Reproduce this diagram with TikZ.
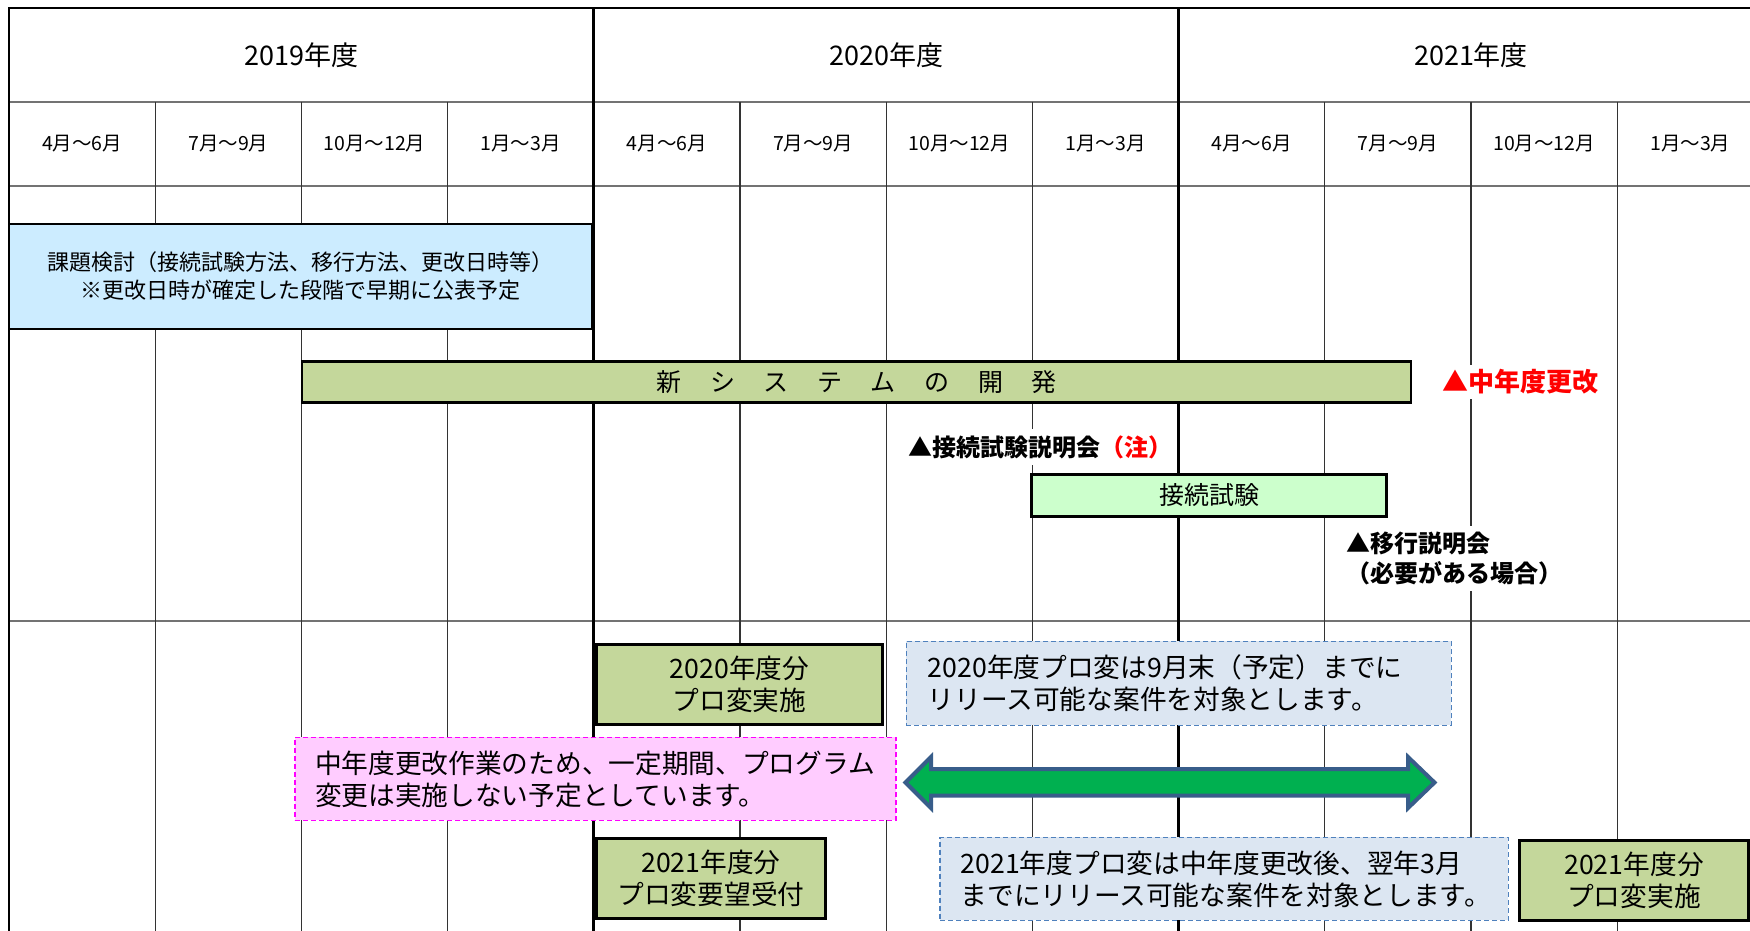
\documentclass[tikz,border=0pt]{standalone}
\usepackage{fontspec}
\setmainfont{Noto Sans CJK JP}
\newcommand\fsz[2]{\fontsize{#1pt}{#2pt}\selectfont}
\newcommand\kgap{\hspace{28.6pt}}
\definecolor{kadaiblue}{HTML}{CCECFF}
\definecolor{olivebox}{HTML}{C4D79B}
\definecolor{testgreen}{HTML}{CCFFCC}
\definecolor{noteline}{HTML}{4F81BD}
\definecolor{notefill}{HTML}{DCE6F2}
\definecolor{pinkfill}{HTML}{FFCCFF}
\definecolor{pinkline}{HTML}{FF00FF}
\definecolor{arrowfill}{HTML}{00B050}
\definecolor{arrowline}{HTML}{385D8A}
\definecolor{alertred}{HTML}{FF0000}
\begin{document}
\begin{tikzpicture}[x=1pt,y=-1pt,
  thinline/.style={draw=black!80, line width=1.3pt},
  thickline/.style={draw=black, line width=2.8pt},
  hline/.style={draw=black!55, line width=1.5pt},
  solidbox/.style={draw=black, line width=2.8pt, inner sep=0pt, align=center},
  notebox/.style={line width=1.6pt, dash pattern=on 5pt off 3pt, inner ysep=0pt, align=left, font=\fsz{26.7}{32}},
  lbl/.style={fill=white, inner xsep=1pt, inner ysep=6pt, font=\bfseries\fsz{24}{29.5}},
  yearlbl/.style={font=\fsz{27}{32}},
  qlbl/.style={font=\fsz{19.5}{24}},
]
\useasboundingbox (0,0) rectangle (1750,931);
\clip (0,0) rectangle (1750,931);

% ---- grid ----
\draw[hline] (9,102) -- (1765,102);
\draw[hline] (9,186) -- (1765,186);
\draw[hline] (9,621) -- (1765,621);
\foreach \i in {1,2,3,5,6,7,9,10,11}
  \draw[thinline] ({9+146.2*\i},102) -- ({9+146.2*\i},931);
\foreach \i in {4,8}
  \draw[thickline] ({9+146.2*\i},8) -- ({9+146.2*\i},931);
\draw[thickline, line join=miter] (9,935) -- (9,8) -- (1765,8);

% ---- header labels ----
\foreach \y [count=\k from 0] in {2019,2020,2021}
  \node[yearlbl] (year\k) at ({301.4+584.8*\k},55) {\y 年度};
\foreach \q [count=\k from 0] in {4月～6月,7月～9月,10月～12月,1月～3月,4月～6月,7月～9月,10月～12月,1月～3月,4月～6月,7月～9月,10月～12月,1月～3月}
  \node[qlbl] (q\k) at ({82.1+146.2*\k},144) {\q};

% ---- upper section ----
\node[solidbox, fill=kadaiblue, minimum width=583pt, minimum height=105pt, font=\fsz{22}{28}] (kadai) at (300.5,276.5)
  {課題検討（接続試験方法、移行方法、更改日時等）\\※更改日時が確定した段階で早期に公表予定};
\node[solidbox, fill=olivebox, minimum width=1109pt, minimum height=41pt, font=\fsz{25}{30}] (dev) at (856.5,381.7)
  {新\kgap シ\kgap ス\kgap テ\kgap ム\kgap の\kgap 開\kgap 発};
\node[lbl, text=alertred, font=\bfseries\fsz{26}{30}, inner ysep=5pt] (chuko) at (1520,382) {▲中年度更改};
\node[lbl] (setsumei) at (1040,447) {▲接続試験説明会\textcolor{alertred}{（注）}};
\node[solidbox, line width=2.2pt, fill=testgreen, minimum width=355pt, minimum height=42pt, font=\fsz{25}{30}] (test) at (1209,495.5) {接続試験};
\node[lbl, anchor=west, align=left, inner xsep=0pt] (ikou) at (1346,558.5) {▲移行説明会\\（必要がある場合）};

% ---- lower section ----
\node[solidbox, fill=olivebox, minimum width=286pt, minimum height=80pt, font=\fsz{26.7}{32}] (p2020) at (739.5,684.4) {2020年度分\\プロ変実施};
\node[notebox, draw=noteline, fill=notefill, minimum height=84pt, text width=502pt, inner xsep=21.5pt] (n2020) at (1178.8,683.4)
  {2020年度プロ変は9月末（予定）までに\\リリース可能な案件を対象とします。};
\node[notebox, draw=pinkline, fill=pinkfill, minimum height=83pt, text width=561pt, inner xsep=20pt] (pink) at (595.5,778.9)
  {中年度更改作業のため、一定期間、プログラム\\変更は実施しない予定としています。};

\coordinate (al) at (905.5,782.5);
\coordinate (ar) at (1434.5,782.5);
\draw[line width=4pt, draw=arrowline, fill=arrowfill, line join=miter]
  (al) -- (931,757) -- (931,769) -- (1408,769) -- (1408,757) -- (ar)
  -- (1408,808) -- (1408,795.5) -- (931,795.5) -- (931,808) -- cycle;

\node[solidbox, fill=olivebox, minimum width=229pt, minimum height=80pt, font=\fsz{26.7}{32}] (p2021a) at (711,878.7) {2021年度分\\プロ変要望受付};
\node[notebox, draw=noteline, fill=notefill, minimum height=83pt, text width=527pt, inner xsep=20.7pt] (n2021) at (1224.2,878.9)
  {2021年度プロ変は中年度更改後、翌年3月\\までにリリース可能な案件を対象とします。};
\node[solidbox, fill=olivebox, minimum width=229pt, minimum height=80pt, font=\fsz{26.7}{32}] (p2021b) at (1634,880.3) {2021年度分\\プロ変実施};
\end{tikzpicture}
\end{document}
